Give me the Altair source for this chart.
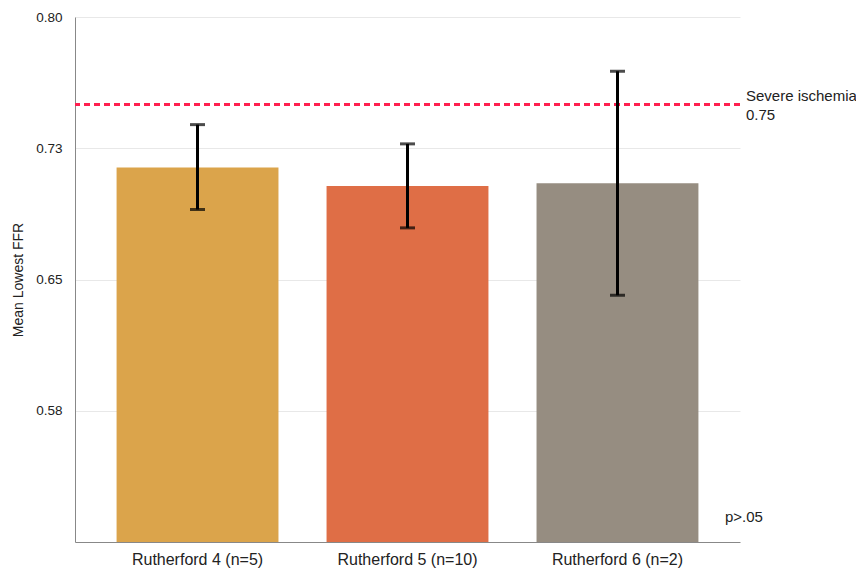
import altair as alt
import pandas as pd

categories = ["Rutherford 4 (n=5)", "Rutherford 5 (n=10)", "Rutherford 6 (n=2)"]
means = [0.714, 0.7035, 0.705]
err_low = [0.690, 0.6795, 0.641]
err_high = [0.7385, 0.7275, 0.769]
colors = ["#DBA44B", "#DF6E46", "#968D81"]
y_ticks = [0.575, 0.65, 0.725, 0.80]
threshold = [0.75]
threshold_label = ["Severe ischemia\n0.75"]
note = ["p>.05"]

df = pd.DataFrame({"cat": categories, "mean": means, "lo": err_low, "hi": err_high})
thr = pd.DataFrame({"y": threshold, "label": threshold_label})
note_df = pd.DataFrame({"t": note})

W, H = 665, 525
FONT = "Liberation Sans"

xenc = alt.X("cat:N", sort=categories,
             scale=alt.Scale(paddingInner=0.229, paddingOuter=0.198),
             axis=alt.Axis(title=None, labelAngle=0, ticks=False, labelPadding=9,
                           labelFontSize=16, labelColor="#222", domainColor="#888",
                           labelFont=FONT, grid=False))
yscale = alt.Scale(domain=[0.5, 0.8], nice=False, zero=False)

bars = alt.Chart(df).mark_bar(clip=True).encode(
    x=xenc,
    y=alt.Y("mean:Q", scale=yscale,
            axis=alt.Axis(title="Mean Lowest FFR", values=y_ticks,
                          labelExpr="format(datum.value + 1e-9, '.2f')",
                          ticks=False, labelPadding=13, labelFontSize=13.5,
                          labelColor="#222", titleFontSize=14, titleFontWeight="normal",
                          titleColor="#222", titlePadding=10, domainColor="#888",
                          grid=True, gridColor="#e8e8e8", labelFont=FONT, titleFont=FONT)),
    color=alt.Color("cat:N", sort=categories,
                    scale=alt.Scale(domain=categories, range=colors), legend=None),
)

rule_thr = alt.Chart(thr).mark_rule(color="#FF1F4F", strokeWidth=3, strokeDash=[6, 4]).encode(
    y=alt.Y("y:Q", scale=yscale)
)

text_thr = alt.Chart(thr).mark_text(align="left", baseline="middle", lineBreak="\n",
                                    fontSize=15, font=FONT, color="#222", lineHeight=19,
                                    dy=-9).encode(
    y=alt.Y("y:Q", scale=yscale), x=alt.value(W + 6), text="label:N"
)

err_rule = alt.Chart(df).mark_rule(color="black", strokeWidth=3).encode(
    x=alt.X("cat:N", sort=categories), y=alt.Y("lo:Q", scale=yscale), y2="hi:Q"
)
cap_lo = alt.Chart(df).mark_tick(color="black", size=15, thickness=3).encode(
    x=alt.X("cat:N", sort=categories), y=alt.Y("lo:Q", scale=yscale)
)
cap_hi = alt.Chart(df).mark_tick(color="black", size=15, thickness=3).encode(
    x=alt.X("cat:N", sort=categories), y=alt.Y("hi:Q", scale=yscale)
)

note_txt = alt.Chart(note_df).mark_text(align="left", baseline="middle", fontSize=15,
                                        font=FONT, color="#222").encode(
    x=alt.value(W - 15), y=alt.value(H - 25), text="t:N"
)

chart = alt.layer(bars, rule_thr, err_rule, cap_lo, cap_hi, text_thr, note_txt).properties(
    width=W, height=H,
    autosize=alt.AutoSizeParams(type="none"),
    padding={"left": 67, "top": 9, "right": 116, "bottom": 30},
).configure_view(stroke=None)

chart.save("out.html", embed_options={"renderer": "svg", "actions": False})
